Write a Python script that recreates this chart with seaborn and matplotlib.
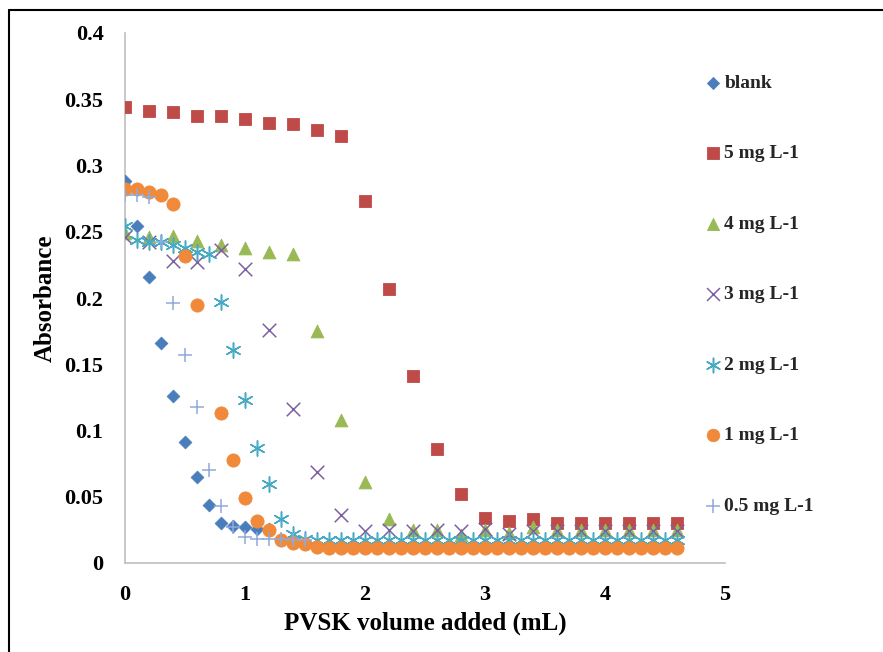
import matplotlib
matplotlib.use("Agg")
import matplotlib.pyplot as plt
import seaborn as sns
import numpy as np
import pandas as pd
from matplotlib.lines import Line2D
from matplotlib.ticker import FuncFormatter

sns.set_theme(style="white")
plt.rcParams['font.family'] = ['Liberation Serif', 'DejaVu Serif']
plt.rcParams['font.weight'] = 'bold'

# ---- data ----
blank_x = [0, 0.1, 0.2, 0.3, 0.4, 0.5, 0.6, 0.7, 0.8, 0.9, 1.0, 1.1, 1.2]
blank_y = [0.288, 0.254, 0.216, 0.166, 0.126, 0.091, 0.065, 0.044, 0.030, 0.028, 0.027, 0.026, 0.026]

mg5_x = [0, 0.2, 0.4, 0.6, 0.8, 1.0, 1.2, 1.4, 1.6, 1.8, 2.0, 2.2, 2.4, 2.6, 2.8,
         3.0, 3.2, 3.4, 3.6, 3.8, 4.0, 4.2, 4.4, 4.6]
mg5_y = [0.344, 0.341, 0.340, 0.337, 0.337, 0.335, 0.332, 0.331, 0.327, 0.322, 0.273, 0.207,
         0.141, 0.086, 0.052, 0.034, 0.032, 0.033, 0.030, 0.030, 0.030, 0.030, 0.030, 0.030]

mg4_x = [0, 0.2, 0.4, 0.6, 0.8, 1.0, 1.2, 1.4, 1.6, 1.8, 2.0, 2.2, 2.4, 2.6, 2.8,
         3.0, 3.2, 3.4, 3.6, 3.8, 4.0, 4.2, 4.4, 4.6]
mg4_y = [0.249, 0.246, 0.247, 0.243, 0.240, 0.238, 0.235, 0.233, 0.175, 0.108, 0.061, 0.033,
         0.025, 0.025, 0.021, 0.025, 0.023, 0.027, 0.025, 0.025, 0.025, 0.025, 0.025, 0.025]

mg3_x = [0, 0.2, 0.4, 0.6, 0.8, 1.0, 1.2, 1.4, 1.6, 1.8, 2.0, 2.2, 2.4, 2.6, 2.8,
         3.0, 3.2, 3.4, 3.6, 3.8, 4.0, 4.2, 4.4, 4.6]
mg3_y = [0.246, 0.242, 0.228, 0.227, 0.236, 0.222, 0.176, 0.116, 0.069, 0.036, 0.024, 0.025,
         0.024, 0.025, 0.024, 0.026, 0.022, 0.024, 0.024, 0.024, 0.024, 0.024, 0.024, 0.024]

mg2_x = [0, 0.1, 0.2, 0.3, 0.4, 0.5, 0.6, 0.7, 0.8, 0.9, 1.0, 1.1, 1.2, 1.3, 1.4, 1.5,
         1.6, 1.7, 1.8, 1.9, 2.0, 2.1, 2.2, 2.3, 2.4, 2.5, 2.6, 2.7, 2.8, 2.9, 3.0,
         3.1, 3.2, 3.3, 3.4, 3.5, 3.6, 3.7, 3.8, 3.9, 4.0, 4.1, 4.2, 4.3, 4.4, 4.5, 4.6]
mg2_y = [0.254, 0.244, 0.242, 0.242, 0.240, 0.238, 0.235, 0.233, 0.197, 0.161, 0.123, 0.087,
         0.060, 0.033, 0.022, 0.018, 0.017, 0.017, 0.017, 0.017, 0.017, 0.017, 0.017, 0.017,
         0.017, 0.017, 0.017, 0.017, 0.017, 0.017, 0.017, 0.017, 0.017, 0.017, 0.017, 0.017,
         0.017, 0.017, 0.017, 0.017, 0.017, 0.017, 0.017, 0.017, 0.017, 0.017, 0.017]

mg1_x = [0, 0.1, 0.2, 0.3, 0.4, 0.5, 0.6, 0.8, 0.9, 1.0, 1.1, 1.2, 1.3, 1.4, 1.5,
         1.6, 1.7, 1.8, 1.9, 2.0, 2.1, 2.2, 2.3, 2.4, 2.5, 2.6, 2.7, 2.8, 2.9, 3.0,
         3.1, 3.2, 3.3, 3.4, 3.5, 3.6, 3.7, 3.8, 3.9, 4.0, 4.1, 4.2, 4.3, 4.4, 4.5, 4.6]
mg1_y = [0.282, 0.282, 0.280, 0.278, 0.271, 0.232, 0.195, 0.113, 0.078, 0.049, 0.032, 0.025,
         0.017, 0.015, 0.014, 0.012, 0.011, 0.011, 0.011, 0.011, 0.011, 0.011, 0.011, 0.011,
         0.011, 0.011, 0.011, 0.011, 0.011, 0.011, 0.011, 0.011, 0.011, 0.011, 0.011, 0.011,
         0.011, 0.011, 0.011, 0.011, 0.011, 0.011, 0.011, 0.011, 0.011, 0.011]

mg05_x = [0, 0.1, 0.2, 0.3, 0.4, 0.5, 0.6, 0.7, 0.8, 0.9, 1.0, 1.1, 1.2, 1.3, 1.4, 1.5]
mg05_y = [0.278, 0.278, 0.276, 0.242, 0.196, 0.157, 0.118, 0.070, 0.043, 0.027, 0.020, 0.018,
          0.018, 0.018, 0.017, 0.017]

labels = ["blank", "5 mg L-1", "4 mg L-1", "3 mg L-1", "2 mg L-1", "1 mg L-1", "0.5 mg L-1"]
xs = [blank_x, mg5_x, mg4_x, mg3_x, mg2_x, mg1_x, mg05_x]
ys = [blank_y, mg5_y, mg4_y, mg3_y, mg2_y, mg1_y, mg05_y]
colors = ["#4A7EBB", "#BE4B48", "#98B954", "#7D60A0", "#46AAC5", "#F08A3A", "#8FAADC"]
markers = ["D", "s", "^", "x", (6, 2, 0), "o", "+"]
sizes = [42, 85, 85, 95, 120, 90, 110]
filled = [True, True, True, False, False, True, False]

x_ticks = [0, 1, 2, 3, 4, 5]
y_ticks = [0, 0.05, 0.1, 0.15, 0.2, 0.25, 0.3, 0.35, 0.4]

W, H = 883, 652
fig = plt.figure(figsize=(W / 100, H / 100), dpi=100)
ax = fig.add_axes([125 / W, (H - 563) / H, 600 / W, 530 / H])

for lab, x, y, c, m, s, f in zip(labels, xs, ys, colors, markers, sizes, filled):
    df = pd.DataFrame({"x": x, "y": y})
    if f:
        sns.scatterplot(data=df, x="x", y="y", ax=ax, marker=m, s=s, color=c,
                        edgecolor=c, linewidth=0.6, label=lab, zorder=3)
    else:
        sns.scatterplot(data=df, x="x", y="y", ax=ax, marker=m, s=s, color=c,
                        linewidth=1.1, label=lab, zorder=3)

ax.set_xlim(0, 5)
ax.set_ylim(0, 0.4)
ax.set_xticks(x_ticks)
ax.set_yticks(y_ticks)
ax.yaxis.set_major_formatter(FuncFormatter(lambda v, p: f"{v:g}"))
ax.xaxis.set_major_formatter(FuncFormatter(lambda v, p: f"{v:g}"))

for sp in ["top", "right"]:
    ax.spines[sp].set_visible(False)
for sp in ["left", "bottom"]:
    ax.spines[sp].set_color("#BFBFBF")
    ax.spines[sp].set_linewidth(1.2)

ax.tick_params(axis="both", which="major", direction="out", length=5, width=1.0,
               color="#BFBFBF", labelsize=16, pad=10.5, labelcolor="black")
ax.tick_params(axis="x", pad=11)
for t in ax.get_xticklabels() + ax.get_yticklabels():
    t.set_fontweight("bold")

ax.set_xlabel("PVSK volume added (mL)", fontsize=18, fontweight="bold", color="black")
ax.set_ylabel("Absorbance", fontsize=18, fontweight="bold", color="black")
ax.xaxis.set_label_coords(0.5, (563 - 623) / 530)
ax.xaxis.label.set_va("center")
ax.yaxis.set_label_coords((45 - 125) / 600, 0.5)
ax.yaxis.label.set_va("center")

handles, labs = ax.get_legend_handles_labels()
leg = ax.legend(handles, labs, loc="upper left", bbox_to_anchor=(705 / W, 1 - 74 / H),
                bbox_transform=fig.transFigure, frameon=False, borderpad=0,
                borderaxespad=0, handlelength=0.8, handletextpad=0.2,
                labelspacing=2.72, prop={"family": "Liberation Serif", "weight": "bold", "size": 14},
                markerscale=0.95)

# chart frame (partially visible)
fig.add_artist(Line2D([9 / W, 1.0], [1 - 10 / H, 1 - 10 / H], transform=fig.transFigure,
                      color="black", linewidth=1.5))
fig.add_artist(Line2D([9 / W, 9 / W], [0, 1 - 10 / H], transform=fig.transFigure,
                      color="black", linewidth=1.5))

fig.savefig("out.png", dpi=100)
